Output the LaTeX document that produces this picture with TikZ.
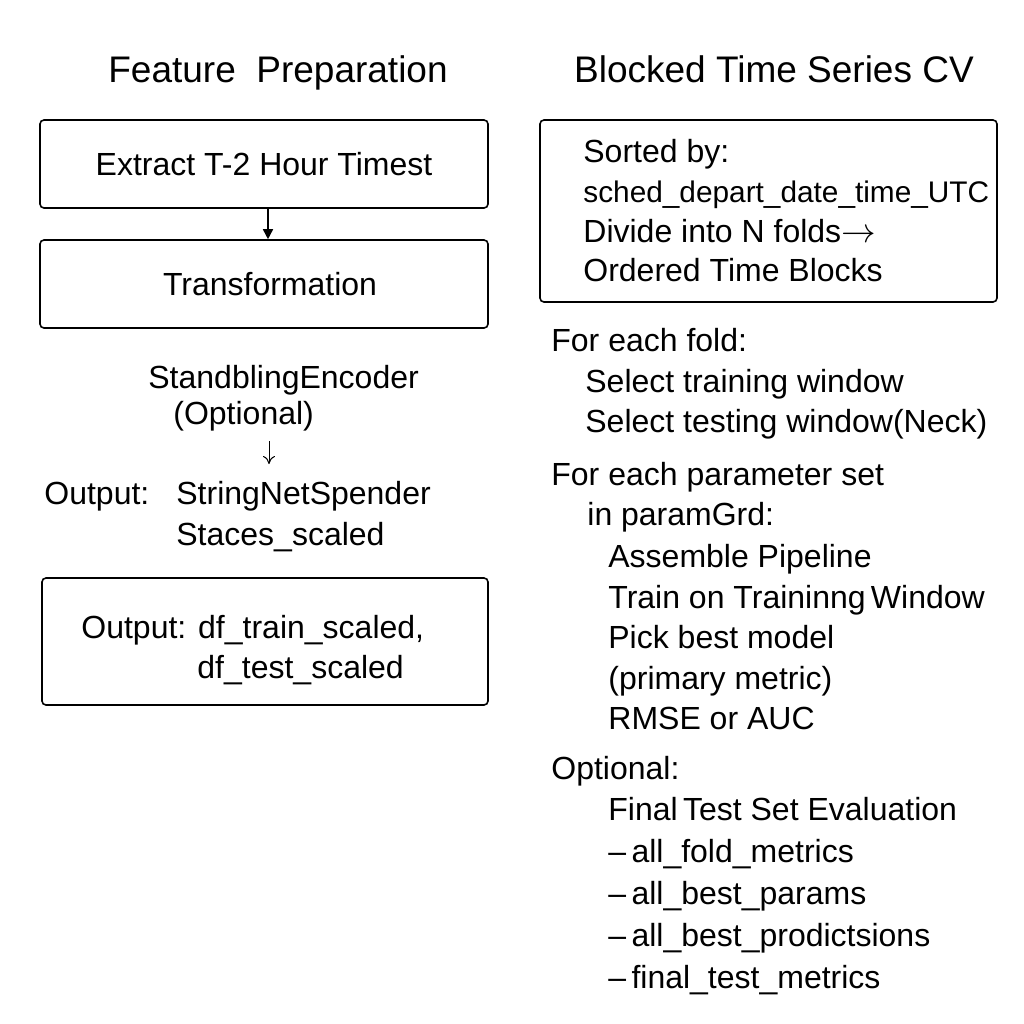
\documentclass[tikz,border=0pt]{standalone}
\usepackage{fontspec}
\setmainfont{Liberation Sans}
\usetikzlibrary{arrows.meta,calc}
\begin{document}
\begin{tikzpicture}[x=0.5pt,y=-0.5pt,
  titletxt/.style={font=\fontsize{18.5}{22}\selectfont,inner sep=0pt,anchor=base},
  txt/.style={font=\fontsize{16}{19}\selectfont,inner sep=0pt,anchor=base west},
  boxn/.style={draw,line width=0.8pt,rounded corners=2pt,inner sep=0pt},
  flow/.style={line width=0.8pt,-{Triangle[length=5pt,width=5pt]}},
  thin/.style={line width=0.5pt,-{To[length=4pt,width=6pt]}}]
\useasboundingbox (0,0) rectangle (1024,1024);
\fill[white] (0,0) rectangle (1024,1024);

% titles
\node[titletxt] (t1) at (278,82) {Feature\ \ Preparation};
\node[titletxt] (t2) at (774,82) {Blocked Time Series CV};

% left column
\node[boxn,minimum width=224pt,minimum height=44pt,font=\fontsize{16}{19}\selectfont] (b1) at (264,164) {Extract T-2 Hour Timest};
\node[boxn,minimum width=224pt,minimum height=44pt,font=\fontsize{16}{19}\selectfont] (b2) at (264,284) {\hspace{6pt}Transformation};
\draw[flow] ($(b1.south)+(4,0)$) -- ($(b2.north)+(4,0)$);

\node[txt] (enc) at (148,388) {StandblingEncoder};
\node[txt] (opt) at (173,424) {(Optional)};
\coordinate (d1) at (269,441);
\coordinate (d2) at (269,464);
\draw[thin] (d1) -- (d2);
\node[txt] (out1) at (44,504) {Output:};
\node[txt] (out2) at (176,504) {StringNetSpender};
\node[txt] (out3) at (176,545) {Staces\_scaled};

\node[boxn,minimum width=223pt,minimum height=63.5pt] (b3) at (265,641.5) {};
\node[txt] (o1) at (81,638) {Output: df\_train\_scaled,};
\node[txt] (o2) at (197,678) {df\_test\_scaled};

% right column
\node[boxn,minimum width=228.5pt,minimum height=91pt] (b4) at (768.5,211) {};
\node[txt] (s1) at (583,162) {Sorted by:};
\node[txt,font=\fontsize{14.9}{18}\selectfont] (s2) at (583,202) {sched\_depart\_date\_time\_UTC};
\node[txt] (s3) at (583,242) {Divide into N folds$\rightarrow$};
\node[txt] (s4) at (583,281) {Ordered Time Blocks};

\node[txt] (f1) at (551,351) {For each fold:};
\node[txt] (f2) at (585,392) {Select training window};
\node[txt] (f3) at (585,432) {Select testing window(Neck)};

\node[txt] (p1) at (551,485) {For each parameter set};
\node[txt] (p2) at (587,525) {in paramGrd:};
\node[txt] (p3) at (608,567) {Assemble Pipeline};
\node[txt] (p4) at (608,608) {Train on Traininng\,Window};
\node[txt] (p5) at (608,648) {Pick best model};
\node[txt] (p6) at (608,689) {(primary metric)};
\node[txt] (p7) at (608,729) {RMSE or AUC};

\node[txt] (e1) at (551,779) {Optional:};
\node[txt] (e2) at (608,820) {Final\,Test Set Evaluation};
\node[txt] (e3) at (608,862) {–\,all\_fold\_metrics};
\node[txt] (e4) at (608,904) {–\,all\_best\_params};
\node[txt] (e5) at (608,946) {–\,all\_best\_prodictsions};
\node[txt] (e6) at (608,988) {–\,final\_test\_metrics};
\end{tikzpicture}
\end{document}
